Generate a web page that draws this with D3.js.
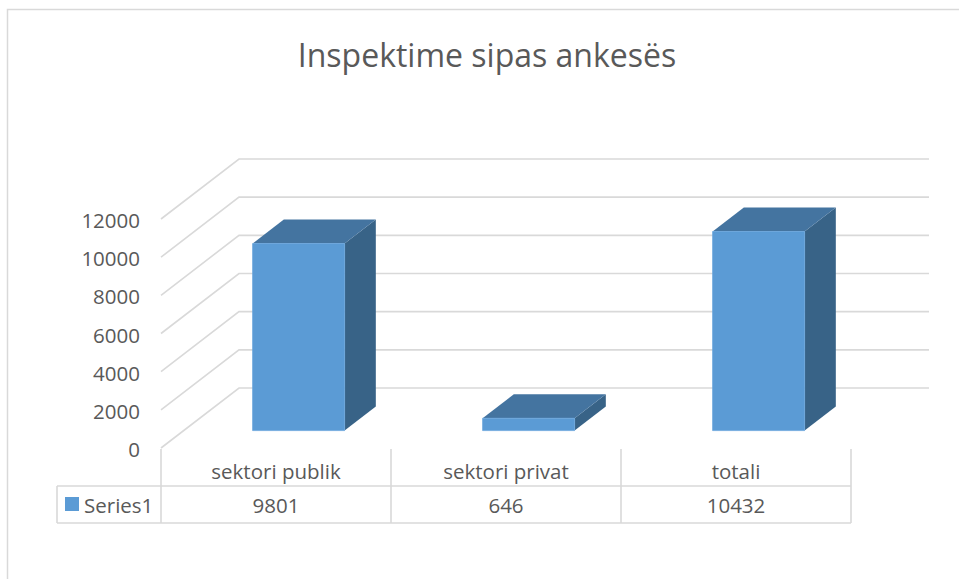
<!DOCTYPE html>
<html>
<head>
<meta charset="utf-8">
<script src="https://cdn.jsdelivr.net/npm/d3@7"></script>
<style>
  html, body { margin: 0; padding: 0; background: #fff; }
  svg { display: block; }
  text { font-family: "Open Sans", "Noto Sans", sans-serif; fill: #595959; }
</style>
</head>
<body>
<svg id="chart" width="959" height="579"></svg>
<script>
// ---- data ----
const title = "Inspektime sipas ankesës";
const categories = ["sektori publik", "sektori privat", "totali"];
const seriesName = "Series1";
const values = [9801, 646, 10432];
const yTicks = [0, 2000, 4000, 6000, 8000, 10000, 12000];

// ---- layout ----
const W = 959, H = 579;
const svg = d3.select("#chart");
const gridColor = "#d9d9d9";
const DX = 78, DY = 60;          // oblique depth offset
const zFront = 0.29, zBack = 0.69;

const x = d3.scaleBand().domain(categories).range([161, 851])
  .paddingInner(0.6).paddingOuter(0.3);
const y = d3.scaleLinear().domain([0, 12000]).range([448, 219]);

const proj = (xf, v, z) => [xf + z * DX, y(v) - z * DY];

// outer border
svg.append("rect").attr("x", 7.5).attr("y", 9.5).attr("width", W + 10).attr("height", H + 10)
  .attr("fill", "none").attr("stroke", gridColor).attr("stroke-width", 1.5);

// title
svg.append("text").attr("x", 487).attr("y", 67).attr("text-anchor", "middle")
  .style("font-size", "32px").text(title);

// gridlines (side wall + back wall)
const xLeft = x.range()[0], xRight = x.range()[1];
svg.append("g").selectAll("path").data(yTicks).join("path")
  .attr("d", v => {
    const a = proj(xLeft, v, 0), b = proj(xLeft, v, 1), c = proj(xRight, v, 1);
    return `M${a}L${b}L${c}`;
  })
  .attr("fill", "none").attr("stroke", gridColor).attr("stroke-width", 1.6);

// y tick labels
svg.append("g").selectAll("text").data(yTicks).join("text")
  .attr("x", 140).attr("y", v => y(v) + 9).attr("text-anchor", "end")
  .style("font-size", "20.5px").text(v => v);

// bars
const bars = svg.append("g");
const pts = (arr) => arr.map(p => p.join(",")).join(" ");
categories.forEach((c, i) => {
  const v = values[i];
  const x0 = x(c), x1 = x(c) + x.bandwidth();
  // side face
  bars.append("polygon").attr("points", pts([
    proj(x1, 0, zFront), proj(x1, 0, zBack), proj(x1, v, zBack), proj(x1, v, zFront)
  ])).attr("fill", "#386387");
  // top face
  bars.append("polygon").attr("points", pts([
    proj(x0, v, zFront), proj(x0, v, zBack), proj(x1, v, zBack), proj(x1, v, zFront)
  ])).attr("fill", "#4474a0");
  // front face
  bars.append("polygon").attr("points", pts([
    proj(x0, 0, zFront), proj(x0, v, zFront), proj(x1, v, zFront), proj(x1, 0, zFront)
  ])).attr("fill", "#5b9bd5").attr("stroke", "#6aa6dd").attr("stroke-width", 0.8);
});

// data table
const tTop = 449, tMid = 486, tBot = 523, tLeft = 57;
const colEdges = d3.range(categories.length + 1).map(i => xLeft + i * (xRight - xLeft) / categories.length);
const tg = svg.append("g").attr("stroke", gridColor).attr("stroke-width", 1.6);
colEdges.forEach(cx => tg.append("line").attr("x1", cx).attr("x2", cx).attr("y1", tTop).attr("y2", tBot));
tg.append("line").attr("x1", tLeft).attr("x2", xRight).attr("y1", tMid).attr("y2", tMid);
tg.append("line").attr("x1", tLeft).attr("x2", xRight).attr("y1", tBot).attr("y2", tBot);
tg.append("line").attr("x1", tLeft).attr("x2", tLeft).attr("y1", tMid).attr("y2", tBot);

svg.append("g").selectAll("text").data(categories).join("text")
  .attr("x", c => x(c) + x.bandwidth() / 2).attr("y", 479).attr("text-anchor", "middle")
  .style("font-size", "20.5px").text(c => c);
svg.append("g").selectAll("text").data(values).join("text")
  .attr("x", (v, i) => x(categories[i]) + x.bandwidth() / 2).attr("y", 513).attr("text-anchor", "middle")
  .style("font-size", "20.5px").text(v => v);

// legend key
svg.append("rect").attr("x", 65).attr("y", 497).attr("width", 14).attr("height", 14).attr("fill", "#5b9bd5");
svg.append("text").attr("x", 84).attr("y", 513).style("font-size", "20.5px").text(seriesName);
</script>
</body>
</html>
